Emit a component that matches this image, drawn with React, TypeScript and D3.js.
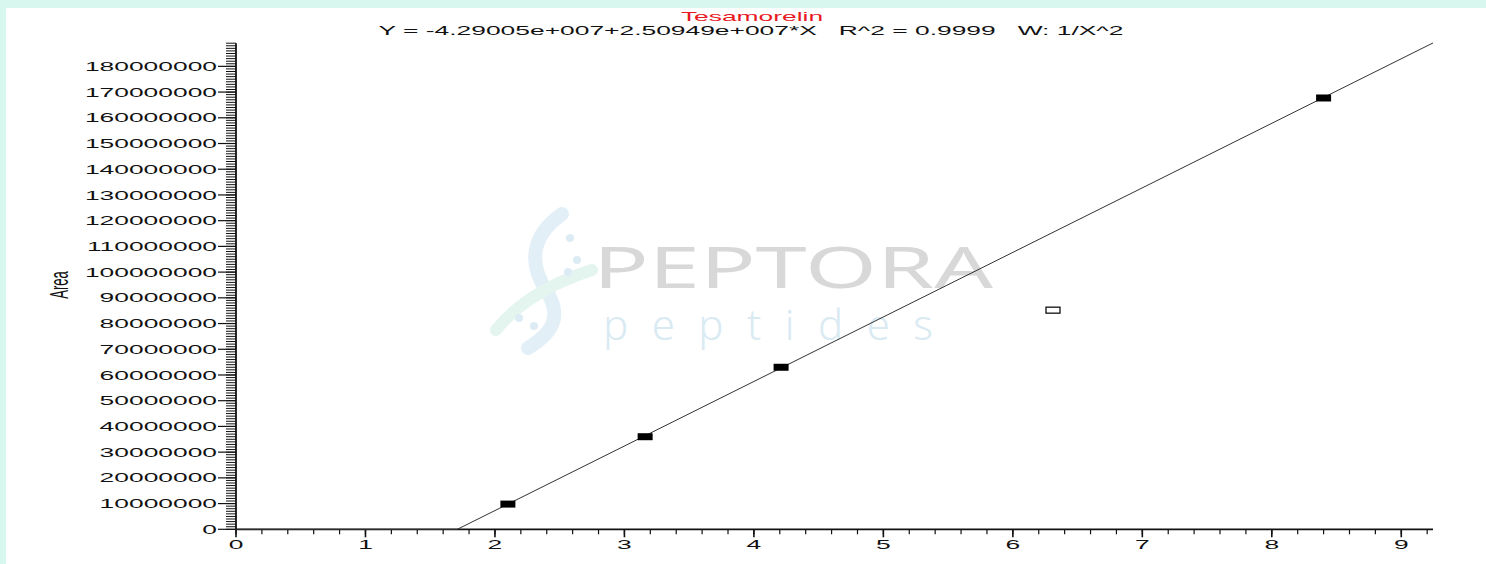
import React, { useRef, useEffect } from "react";
import * as d3 from "d3";

// calibration standards (concentration, area)
const stdX = [2.1, 3.16, 4.21, 8.4];
const stdY = [9.8e6, 36.0e6, 63.0e6, 167.7e6];
// excluded point (drawn hollow)
const excludedX = [6.31];
const excludedY = [85.2e6];
// fit coefficients: Y = a + b*X
const fitCoef = [-4.29005e7, 2.50949e7];
const xTickLabels = [0, 1, 2, 3, 4, 5, 6, 7, 8, 9];
const yTickLabels = [0, 1e7, 2e7, 3e7, 4e7, 5e7, 6e7, 7e7, 8e7, 9e7, 1e8, 1.1e8, 1.2e8, 1.3e8, 1.4e8, 1.5e8, 1.6e8, 1.7e8, 1.8e8];

const W = 1486;
const H = 564;
const SX = 2.03; // source picture is stretched horizontally
const FONT = "'Liberation Sans', Arial, sans-serif";

export default function App() {
  const svgRef = useRef<SVGSVGElement>(null);

  useEffect(() => {
    if (!svgRef.current) return;
    const svg = d3.select(svgRef.current);
    svg.selectAll("*").remove();

    // frame
    svg.append("rect").attr("width", W).attr("height", H).attr("fill", "#d8f7ee");
    svg.append("rect").attr("x", 6).attr("y", 8).attr("width", W - 6).attr("height", H - 8).attr("fill", "#fff");

    const x = d3.scaleLinear().domain([0, 9.245]).range([236, 1433]);
    const y = d3.scaleLinear().domain([0, 1.89e8]).range([529.3, 43.2]);

    // watermark
    const wm = svg.append("g").attr("pointer-events", "none");
    wm.append("path")
      .attr("d", "M562,214 C532,235 528,262 546,290 C560,312 558,330 528,348")
      .attr("fill", "none").attr("stroke", "#e2eff7").attr("stroke-width", 14).attr("stroke-linecap", "round");
    wm.append("path")
      .attr("d", "M496,330 C520,300 555,282 592,270")
      .attr("fill", "none").attr("stroke", "#e4f5ef").attr("stroke-width", 12).attr("stroke-linecap", "round");
    [[570, 238], [577, 260], [568, 272], [519, 318], [534, 326]].forEach(([cx, cy]) => {
      wm.append("circle").attr("cx", cx).attr("cy", cy).attr("r", 4).attr("fill", "#dcebf4");
    });
    wm.append("text")
      .attr("x", 593).attr("y", 288)
      .attr("textLength", 400).attr("lengthAdjust", "spacingAndGlyphs")
      .attr("font-family", "'Noto Sans', sans-serif").attr("font-weight", 400)
      .attr("font-size", 57).attr("fill", "#d8d8d8")
      .text("PEPTORA");
    wm.append("text")
      .attr("x", 603).attr("y", 340)
      .attr("textLength", 330).attr("lengthAdjust", "spacing")
      .attr("font-family", "'Noto Sans', sans-serif").attr("font-weight", 300)
      .attr("font-size", 42).attr("fill", "#d9eaf3")
      .text("peptides");

    const stretchText = (g: any, tx: number, ty: number, s: string, anchor: string, color = "#111", size = 13) =>
      g.append("text")
        .attr("transform", `translate(${tx},${ty}) scale(${SX},1)`)
        .attr("text-anchor", anchor)
        .attr("font-family", FONT)
        .attr("font-size", size)
        .attr("fill", color)
        .style("white-space", "pre")
        .text(s);

    // titles
    stretchText(svg, 752, 20.5, "Tesamorelin", "middle", "#e8191f");
    stretchText(svg, 751, 35.3, "Y = -4.29005e+007+2.50949e+007*X   R^2 = 0.9999   W: 1/X^2", "middle");

    // axis label
    svg.append("text")
      .attr("transform", `translate(68,285) scale(${SX},1) rotate(-90)`)
      .attr("text-anchor", "middle")
      .attr("font-family", FONT)
      .attr("font-size", 13)
      .attr("fill", "#111")
      .text("Area");

    const axes = svg.append("g").attr("stroke", "#111");

    // y minor + major ticks
    const yMinor = d3.range(0, 1.895e8, 1e6);
    axes.selectAll(".ym").data(yMinor).join("line")
      .attr("x1", 226).attr("x2", 236)
      .attr("y1", (d) => y(d)).attr("y2", (d) => y(d))
      .attr("stroke-width", 1);
    axes.selectAll(".yM").data(yTickLabels).join("line")
      .attr("x1", 218).attr("x2", 236)
      .attr("y1", (d) => y(d)).attr("y2", (d) => y(d))
      .attr("stroke-width", 1.2);

    // x minor + major ticks
    const xMinor = d3.range(0, 9.21, 0.2);
    axes.selectAll(".xm").data(xMinor).join("line")
      .attr("x1", (d) => x(d)).attr("x2", (d) => x(d))
      .attr("y1", y(0)).attr("y2", y(0) + 5)
      .attr("stroke-width", 1.2);
    axes.selectAll(".xM").data(xTickLabels).join("line")
      .attr("x1", (d) => x(d)).attr("x2", (d) => x(d))
      .attr("y1", y(0)).attr("y2", y(0) + 8)
      .attr("stroke-width", 1.6);

    // axis lines
    axes.append("line").attr("x1", 236).attr("x2", 236).attr("y1", y.range()[1]).attr("y2", y(0)).attr("stroke-width", 1.8);
    axes.append("line").attr("x1", 236).attr("x2", x.range()[1]).attr("y1", y(0)).attr("y2", y(0)).attr("stroke-width", 1.8);

    // tick labels
    yTickLabels.forEach((v) => stretchText(svg, 217, y(v) + 4.6, d3.format("d")(v), "end"));
    xTickLabels.forEach((v) => stretchText(svg, x(v), 549, String(v), "middle"));

    // fit line (clipped at zero)
    const [a, b] = fitCoef;
    const x0 = -a / b;
    const xmax = x.domain()[1];
    const fitPts: [number, number][] = [[0, 0], [x0, 0], [xmax, a + b * xmax]];
    svg.append("path")
      .attr("d", d3.line<[number, number]>().x((d) => x(d[0])).y((d) => y(d[1]))(fitPts))
      .attr("fill", "none").attr("stroke", "#333").attr("stroke-width", 1);

    // points
    svg.selectAll(".pt").data(stdX).join("rect")
      .attr("x", (d) => x(d) - 7.5).attr("y", (d, i) => y(stdY[i]) - 3.5)
      .attr("width", 15).attr("height", 7).attr("fill", "#000");
    svg.selectAll(".ex").data(excludedX).join("rect")
      .attr("x", (d) => x(d) - 7).attr("y", (d, i) => y(excludedY[i]) - 3)
      .attr("width", 14).attr("height", 6)
      .attr("fill", "#fff").attr("stroke", "#111").attr("stroke-width", 1.3);
  }, []);

  return (
    <div style={{ position: "fixed", left: 0, top: 0 }}>
      <svg ref={svgRef} width={W} height={H} style={{ display: "block" }} />
    </div>
  );
}
